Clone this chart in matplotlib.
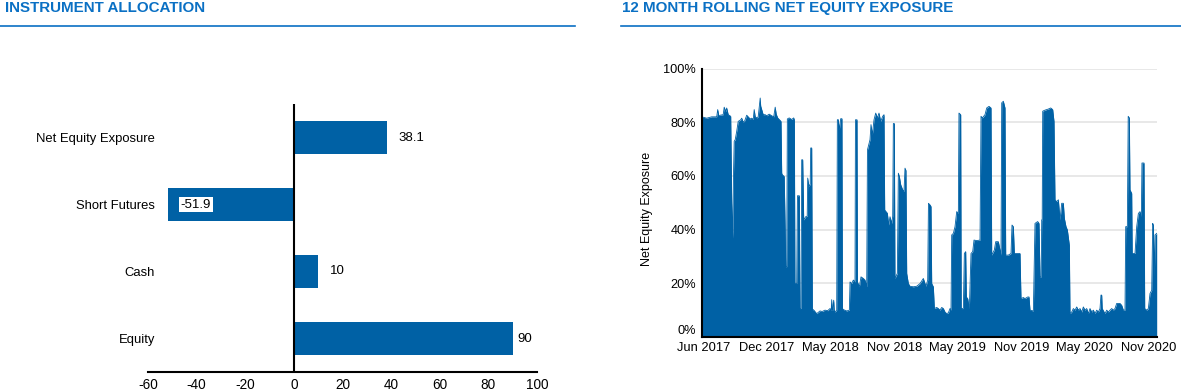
import matplotlib
matplotlib.use('Agg')
import matplotlib.pyplot as plt
from matplotlib.lines import Line2D

plt.rcParams['font.family'] = ['Liberation Sans', 'DejaVu Sans']

# ---------------- data ----------------
categories = ['Net Equity Exposure', 'Short Futures', 'Cash', 'Equity']
allocation = [38.1, -51.9, 10, 90]
allocation_labels = ['38.1', '-51.9', '10', '90']
allocation_ticks = [-60, -40, -20, 0, 20, 40, 60, 80, 100]

# trading-day index (approx.) and rolling net equity exposure (%)
trading_day = [
    0, 10, 20, 30, 32, 34, 43, 45, 48, 50, 53, 58, 60, 62, 63.5, 65, 67, 70, 73, 78,
    80, 83, 86, 90, 93, 97, 100, 103, 105, 107, 110, 113, 117, 118, 120, 123, 127, 130, 135, 140,
    144, 147, 149, 152, 155, 158.6, 160, 161.3, 165, 167, 168, 170, 171.3, 175, 180, 184, 185.3, 186.5, 190, 191.5,
    195.3, 196.3, 198.5, 200, 202, 204, 208, 211, 212, 214.6, 217, 218, 220, 221.3,
    222, 223.3, 230, 236.6, 241, 246.6, 252, 256.6, 259, 260, 261, 262, 264, 265, 266.6, 270, 271.3, 273, 275.3, 277,
    278, 280.5, 281.5, 283.3, 290, 295.3, 296.6, 300, 303.3, 306.6, 307.5, 310.6, 311.5, 315.3, 318.6, 323.3, 326.6, 330, 331.5, 336.6,
    338.6, 341.3, 344.6, 348, 351.3, 354.6, 358, 362, 364.6, 366, 371.3, 374, 376.6, 380, 382, 383.3, 385.3, 386.5, 391.3, 393.3,
    395.3, 398, 402, 404.6, 406.6, 408.5, 410, 413.3, 416.6, 423.3, 430, 436.6, 443.3, 446.6, 448.6, 452, 453.5, 456.6, 458.6, 460,
    463.3, 465.3,
    470, 473.3, 476.6, 480, 483.3, 486.6, 490, 493.3, 496.6, 498.6, 500, 503.3, 506.6, 510, 513.3, 514.5, 518, 519, 523.3, 525.3,
    528, 529.3, 532, 535.3, 538.6, 542, 544.6, 550, 556.6, 558.6, 561.3, 566.6, 570, 574.6, 578.6, 580, 585.3, 588, 593.3, 598.6,
    600, 603.3, 606.6, 608, 613.3, 618.6, 620.6, 623.3, 625.3, 630, 636.6, 638.6, 643.3, 646.6, 652, 654.6, 656.6, 663.3, 666.6, 672,
    674.6, 676.6, 679, 680, 681,
    682, 686.6, 693.3, 698, 702, 704.6, 706.6, 710, 713.3, 716.6, 720, 723.3, 725.3, 728.6, 731.3, 735.3, 736.6, 740, 743.3, 746.6,
    750, 753.3, 756.6, 760, 763.3, 766.6, 770, 773.3, 776.6, 780, 783.3, 786.6, 790, 793.3, 796.6, 798.5, 800, 801, 806.6, 810,
    813.3, 816.6, 820, 823.3, 826.6, 830, 836.6, 840, 843.3, 846.6, 848, 851.3, 853, 855.3, 856.6, 860, 861, 866.6, 870, 873.3,
    876.6, 879.3, 880.5, 884.6, 886, 890, 893.3, 896.6, 900, 902, 903.3, 905.3, 906.6, 910,
]
exposure = [
    82, 81.5, 82, 82, 84.7, 82.5, 82.8, 85.6, 84, 85.3, 82.8, 82.2, 50, 36.7, 60, 72.9, 73.5, 76.6, 80.3, 80.9,
    81.5, 80, 80.5, 82.6, 82, 81.2, 81.5, 81, 84.7, 82, 81.6, 82, 89, 86, 84.7, 82.8, 82.8, 82.4, 83, 82.4,
    82, 85.6, 83, 81.6, 81, 80.3, 61, 60.4, 59.8, 40, 26.2, 26.2, 81.2, 81.6, 81, 81.6, 80.9, 20, 19.9, 52.6,
    52.6, 10.6, 10.6, 66, 66, 43.6, 44.8, 45, 59.2, 56, 57, 70.4, 70.4, 10.6,
    10, 10.2, 8.7, 9.7, 9.5, 10, 9.8, 10.6, 10, 13.9, 10, 10, 13.7, 10, 9.3, 10, 80.9, 81, 77.2, 80,
    81.3, 81.3, 10.6, 10.2, 9.7, 10, 20.5, 19.9, 21.2, 20.5, 80.9, 80.9, 20.5, 18.7, 22.4, 21.8, 21.2, 18.7, 69.7, 73.5,
    79.1, 75.3, 80.9, 83.4, 81.6, 83.4, 80.3, 82.2, 82.8, 47.3, 46.1, 41.7, 44.8, 42.3, 45, 79.5, 79.5, 21.8, 23.7, 61,
    59.8, 56.7, 54.8, 54.2, 62.9, 62, 23.7, 19.9, 18.9, 18.7, 18.9, 19.9, 21.8, 19.9, 18.9, 21.2, 49.8, 49.2, 48.6, 19.9,
    18.7, 10.6,
    11, 10.6, 10, 11, 10.6, 9.3, 8.7, 9, 10.6, 10, 38, 38.6, 41.1, 46.7, 46.1, 83.4, 82.8, 10.6, 10.6, 31.1,
    31.8, 14.9, 14.3, 10.6, 31.1, 31.8, 36.1, 35.9, 36.1, 82.2, 81.6, 82.8, 85.3, 85.9, 85.3, 30.5, 32.4, 35.5, 35.5, 30.5,
    87.2, 87.8, 85.3, 30.5, 30.5, 31.1, 41.7, 41.1, 31.1, 31.1, 31.1, 14.3, 14.7, 14.3, 14.9, 14.9, 10, 9.7, 42.3, 43,
    42.3, 22.4, 22.4, 43.6, 43.6,
    84.1, 84.5, 84.9, 85.3, 84.7, 80.3, 51.1, 50.4, 51.1, 43.6, 49.8, 49.8, 44.2, 41.1, 39.9, 34.2, 8.7, 9.3, 10.6, 10,
    11.2, 10, 10.6, 9.3, 11.2, 10, 10.6, 8.7, 10.6, 9.3, 10, 8.7, 10, 9.3, 10.6, 15.6, 15.6, 10.6, 8.7, 10,
    9.3, 10, 10.6, 10, 10.6, 12.5, 12.5, 11.8, 10, 10, 41.1, 41.1, 82.2, 81.6, 54.8, 53.5, 31.1, 31.1, 41.1, 46,
    46.7, 44.8, 64.8, 64.8, 10.6, 10, 10.6, 16.2, 17.4, 42.3, 41.7, 22.4, 38, 38.6,
]
date_tick_pos = [3, 130, 257, 385, 512, 639, 766, 893]
date_tick_labels = ['Jun 2017', 'Dec 2017', 'May 2018', 'Nov 2018',
                    'May 2019', 'Nov 2019', 'May 2020', 'Nov 2020']
exposure_ticks = [0, 20, 40, 60, 80, 100]

# ---------------- style ----------------
BLUE = '#0061a5'
TITLE_BLUE = '#0a70c4'
W, H = 1181, 390

fig = plt.figure(figsize=(W / 100, H / 100), dpi=100)


def fx(px):
    return px / W


def fy(py):
    return 1 - py / H


# titles and underlines
fig.text(fx(5), fy(8), 'INSTRUMENT ALLOCATION', fontsize=10.9, fontweight='bold',
         color=TITLE_BLUE, va='center', ha='left')
fig.text(fx(622), fy(8), '12 MONTH ROLLING NET EQUITY EXPOSURE', fontsize=10.9,
         fontweight='bold', color=TITLE_BLUE, va='center', ha='left')
fig.add_artist(Line2D([fx(0), fx(575)], [fy(26), fy(26)], color=TITLE_BLUE, lw=1.2))
fig.add_artist(Line2D([fx(621), fx(1181)], [fy(26), fy(26)], color=TITLE_BLUE, lw=1.2))

# ---------------- left: instrument allocation ----------------
ax1 = fig.add_axes([fx(148), fy(372), fx(537 - 148), (372 - 104) / H])
ypos = list(range(len(categories)))
ax1.barh(ypos, allocation, height=0.5, color=BLUE, zorder=2)
ax1.set_xlim(allocation_ticks[0], allocation_ticks[-1])
ax1.set_ylim(len(categories) - 0.5, -0.5)
ax1.axvline(0, color='black', lw=1.5, zorder=3)
for s in ['left', 'right', 'top']:
    ax1.spines[s].set_visible(False)
ax1.spines['bottom'].set_color('black')
ax1.spines['bottom'].set_linewidth(1.5)
ax1.set_xticks(allocation_ticks)
ax1.set_xticklabels([str(t) for t in allocation_ticks])
ax1.tick_params(axis='x', length=0, pad=4, labelsize=9.8, colors='black')
ax1.set_yticks(ypos)
ax1.set_yticklabels(categories)
ax1.tick_params(axis='y', length=0, pad=-5, labelsize=9.4, colors='black')

ppu = (537 - 148) / (allocation_ticks[-1] - allocation_ticks[0])  # px per unit
for y, v, lab in zip(ypos, allocation, allocation_labels):
    if v >= 0:
        est_w = 7.4 * len(lab)
        if v + (12 + est_w) / ppu > allocation_ticks[-1]:
            ax1.annotate(lab, (allocation_ticks[-1], y), xytext=(-5 * 0.72, 0),
                         textcoords='offset points', ha='right', va='center',
                         fontsize=9.5, color='black', zorder=4)
        else:
            ax1.annotate(lab, (v, y), xytext=(12 * 0.72, 0), textcoords='offset points',
                         ha='left', va='center', fontsize=9.5, color='black', zorder=4)
    else:
        ax1.annotate(lab, (v, y), xytext=(13 * 0.72, 0), textcoords='offset points',
                     ha='left', va='center', fontsize=9.5, color='black', zorder=4,
                     bbox=dict(boxstyle='square,pad=0.15', fc='white', ec='none'))

# ---------------- right: rolling net equity exposure ----------------
ax2 = fig.add_axes([fx(701.7), fy(337), fx(1157 - 701.7), (337 - 68.5) / H])
ax2.fill_between(trading_day, exposure, 0, color=BLUE, lw=0, zorder=2)
ax2.plot(trading_day, exposure, color=BLUE, lw=0.6, zorder=2)
ax2.set_xlim(0, 910.6)
ax2.set_ylim(0, 100)
ax2.set_yticks(exposure_ticks)
ax2.set_yticklabels([f'{t}%' for t in exposure_ticks])
ax2.yaxis.grid(True, color='#e6e6e6', lw=1.3)
ax2.set_axisbelow(True)
for s in ['right', 'top']:
    ax2.spines[s].set_visible(False)
for s in ['left', 'bottom']:
    ax2.spines[s].set_color('black')
    ax2.spines[s].set_linewidth(1.5)
    ax2.spines[s].set_zorder(3)
ax2.set_xticks(date_tick_pos)
ax2.set_xticklabels(date_tick_labels)
ax2.tick_params(axis='x', length=0, pad=3.5, labelsize=9.3, colors='black')
ax2.tick_params(axis='y', length=0, pad=4, labelsize=9.2, colors='black')
# lift the 0% label slightly so it sits on the baseline without colliding with the dates
ylabels = ax2.get_yticklabels()
ylabels[0].set_va('bottom')
ax2.set_ylabel('Net Equity Exposure', fontsize=9, color='black')
ax2.yaxis.set_label_coords(-0.107, 0.478)

fig.savefig('out.png', dpi=100)
